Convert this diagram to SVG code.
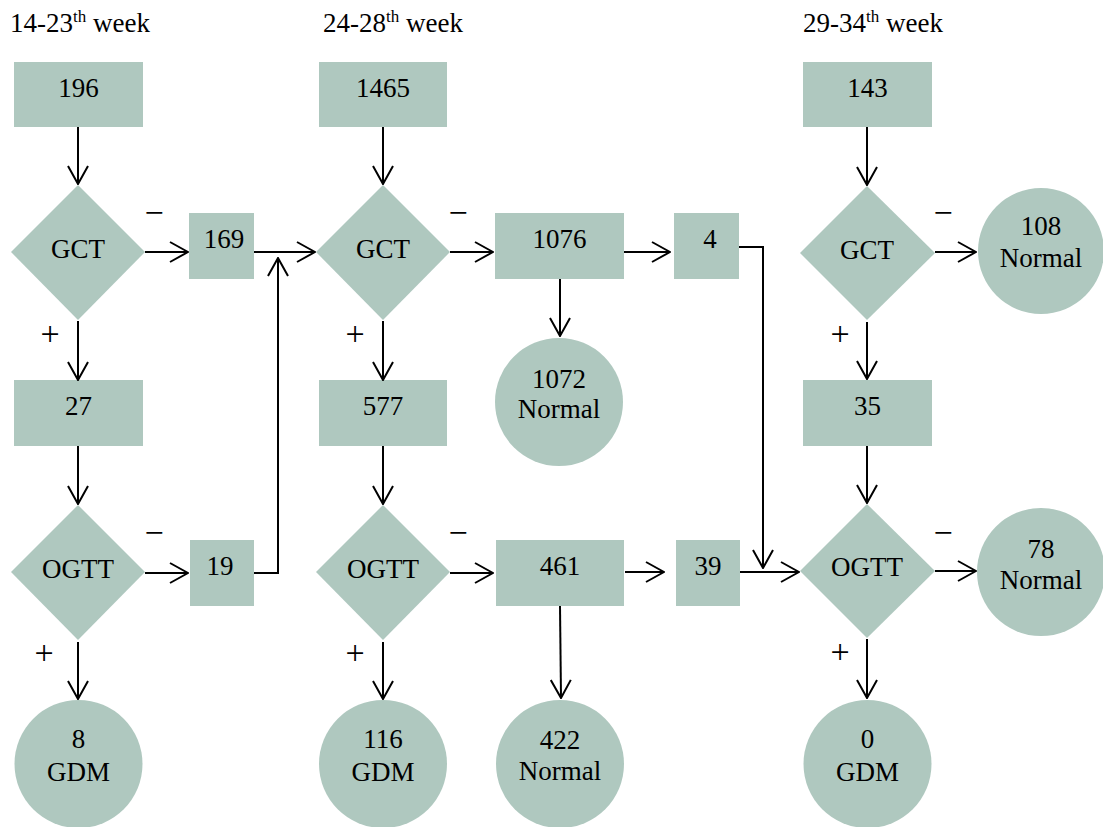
<svg xmlns="http://www.w3.org/2000/svg" width="1103" height="827" viewBox="0 0 1103 827">
<style>
.n{fill:#afc8bf;stroke:none}
text{font-family:"Liberation Serif","Times New Roman",serif;font-size:27px;fill:#000}
.c{text-anchor:middle}
.e{fill:none;stroke:#000;stroke-width:2}
.sup{font-size:17px}
.s{font-size:34px;fill:#000}
</style>
<defs>
<marker id="ah" viewBox="0 0 20 22" refX="19" refY="11" markerWidth="20" markerHeight="22" markerUnits="userSpaceOnUse" orient="auto">
<path d="M1,1 L19,11 L1,21" fill="none" stroke="#000" stroke-width="2"/>
</marker>
</defs>
<rect width="1103" height="827" fill="#fff"/>
<g id="headers">
<text x="10" y="32">14-23<tspan class="sup" dy="-10">th</tspan><tspan dy="10"> week</tspan></text>
<text x="323" y="32">24-28<tspan class="sup" dy="-10">th</tspan><tspan dy="10"> week</tspan></text>
<text x="803" y="32">29-34<tspan class="sup" dy="-10">th</tspan><tspan dy="10"> week</tspan></text>
</g>
<g id="n196"><rect class="n" x="14" y="62" width="129" height="65"/><text class="c" x="78.5" y="97">196</text></g>
<g id="gct1"><polygon class="n" points="78,185 145,252 78,320 11,252"/><text class="c" x="78" y="258">GCT</text></g>
<g id="n169"><rect class="n" x="189" y="213" width="65" height="66"/><text class="c" x="224" y="248">169</text></g>
<g id="n27"><rect class="n" x="14" y="380" width="129" height="66"/><text class="c" x="78.5" y="415">27</text></g>
<g id="ogtt1"><polygon class="n" points="78,505 145,572 78,640 11,572"/><text class="c" x="78" y="578">OGTT</text></g>
<g id="n19"><rect class="n" x="190" y="540" width="64" height="66"/><text class="c" x="220" y="575">19</text></g>
<g id="gdm8"><circle class="n" cx="78.5" cy="764" r="64"/><text class="c" x="78.5" y="748">8</text><text class="c" x="78.5" y="781">GDM</text></g>

<g id="n1465"><rect class="n" x="319" y="62" width="128" height="65"/><text class="c" x="383" y="97">1465</text></g>
<g id="gct2"><polygon class="n" points="383,185 450,252 383,320 316,252"/><text class="c" x="383" y="258">GCT</text></g>
<g id="n1076"><rect class="n" x="495" y="213" width="129" height="66"/><text class="c" x="559.5" y="248">1076</text></g>
<g id="n4"><rect class="n" x="674" y="213" width="65" height="66"/><text class="c" x="710" y="248">4</text></g>
<g id="normal1072"><circle class="n" cx="559" cy="402" r="64"/><text class="c" x="559" y="388">1072</text><text class="c" x="559" y="418">Normal</text></g>
<g id="n577"><rect class="n" x="319" y="380" width="128" height="66"/><text class="c" x="383" y="415">577</text></g>
<g id="ogtt2"><polygon class="n" points="383,505 450,572 383,640 316,572"/><text class="c" x="383" y="578">OGTT</text></g>
<g id="n461"><rect class="n" x="496" y="540" width="128" height="66"/><text class="c" x="560" y="575">461</text></g>
<g id="n39"><rect class="n" x="676" y="540" width="64" height="66"/><text class="c" x="708" y="575">39</text></g>
<g id="gdm116"><circle class="n" cx="383" cy="764" r="64"/><text class="c" x="383" y="748">116</text><text class="c" x="383" y="781">GDM</text></g>
<g id="normal422"><circle class="n" cx="560" cy="764" r="64"/><text class="c" x="560" y="749">422</text><text class="c" x="560" y="780">Normal</text></g>

<g id="n143"><rect class="n" x="803" y="62" width="129" height="65"/><text class="c" x="867.5" y="97">143</text></g>
<g id="gct3"><polygon class="n" points="867,186 935,253 867,320 800,253"/><text class="c" x="867" y="259">GCT</text></g>
<g id="normal108"><circle class="n" cx="1041" cy="251" r="63"/><text class="c" x="1041" y="235">108</text><text class="c" x="1041" y="267">Normal</text></g>
<g id="n35"><rect class="n" x="803" y="380" width="129" height="66"/><text class="c" x="867.5" y="415">35</text></g>
<g id="ogtt3"><polygon class="n" points="867,504 935,571 867,638 800,571"/><text class="c" x="867" y="576">OGTT</text></g>
<g id="normal78"><circle class="n" cx="1041" cy="572" r="64"/><text class="c" x="1041" y="558">78</text><text class="c" x="1041" y="589">Normal</text></g>
<g id="gdm0"><circle class="n" cx="867.5" cy="764" r="64"/><text class="c" x="867.5" y="748">0</text><text class="c" x="867.5" y="781">GDM</text></g>

<g id="connectors">
<line class="e" x1="78" y1="127" x2="78" y2="184" marker-end="url(#ah)"/>
<line class="e" x1="145" y1="252" x2="188" y2="252" marker-end="url(#ah)"/>
<line class="e" x1="78" y1="321" x2="78" y2="380" marker-end="url(#ah)"/>
<line class="e" x1="78" y1="446" x2="78" y2="504" marker-end="url(#ah)"/>
<line class="e" x1="145" y1="573" x2="188" y2="573" marker-end="url(#ah)"/>
<line class="e" x1="78" y1="642" x2="78" y2="699" marker-end="url(#ah)"/>
<line class="e" x1="254" y1="252" x2="315" y2="252" marker-end="url(#ah)"/>
<polyline class="e" points="254,573 278,573 278,258" marker-end="url(#ah)"/>

<line class="e" x1="383" y1="127" x2="383" y2="184" marker-end="url(#ah)"/>
<line class="e" x1="450" y1="252" x2="493" y2="252" marker-end="url(#ah)"/>
<line class="e" x1="383" y1="321" x2="383" y2="380" marker-end="url(#ah)"/>
<line class="e" x1="383" y1="446" x2="383" y2="504" marker-end="url(#ah)"/>
<line class="e" x1="450" y1="573" x2="493" y2="573" marker-end="url(#ah)"/>
<line class="e" x1="383" y1="642" x2="383" y2="699" marker-end="url(#ah)"/>
<line class="e" x1="624" y1="252" x2="670" y2="252" marker-end="url(#ah)"/>
<line class="e" x1="560" y1="279" x2="560" y2="336" marker-end="url(#ah)"/>
<line class="e" x1="625" y1="572" x2="664" y2="572" marker-end="url(#ah)"/>
<line class="e" x1="560" y1="606" x2="561" y2="698" marker-end="url(#ah)"/>
<polyline class="e" points="739,247 763,247 763,568" marker-end="url(#ah)"/>
<line class="e" x1="740" y1="572" x2="799" y2="572" marker-end="url(#ah)"/>

<line class="e" x1="867" y1="127" x2="867" y2="185" marker-end="url(#ah)"/>
<line class="e" x1="935" y1="252" x2="976" y2="252" marker-end="url(#ah)"/>
<line class="e" x1="867" y1="322" x2="867" y2="379" marker-end="url(#ah)"/>
<line class="e" x1="867" y1="446" x2="867" y2="503" marker-end="url(#ah)"/>
<line class="e" x1="935" y1="571" x2="976" y2="571" marker-end="url(#ah)"/>
<line class="e" x1="867" y1="639" x2="867" y2="698" marker-end="url(#ah)"/>
</g>
<g id="signs">
<text class="c s" x="154" y="224">−</text>
<text class="c s" x="458" y="224">−</text>
<text class="c s" x="943" y="224">−</text>
<text class="c s" x="154" y="544">−</text>
<text class="c s" x="458" y="544">−</text>
<text class="c s" x="943" y="544">−</text>
<text class="c s" x="50" y="345">+</text>
<text class="c s" x="355" y="345">+</text>
<text class="c s" x="840" y="345">+</text>
<text class="c s" x="44" y="664">+</text>
<text class="c s" x="355" y="664">+</text>
<text class="c s" x="840" y="663">+</text>
</g>
</svg>
